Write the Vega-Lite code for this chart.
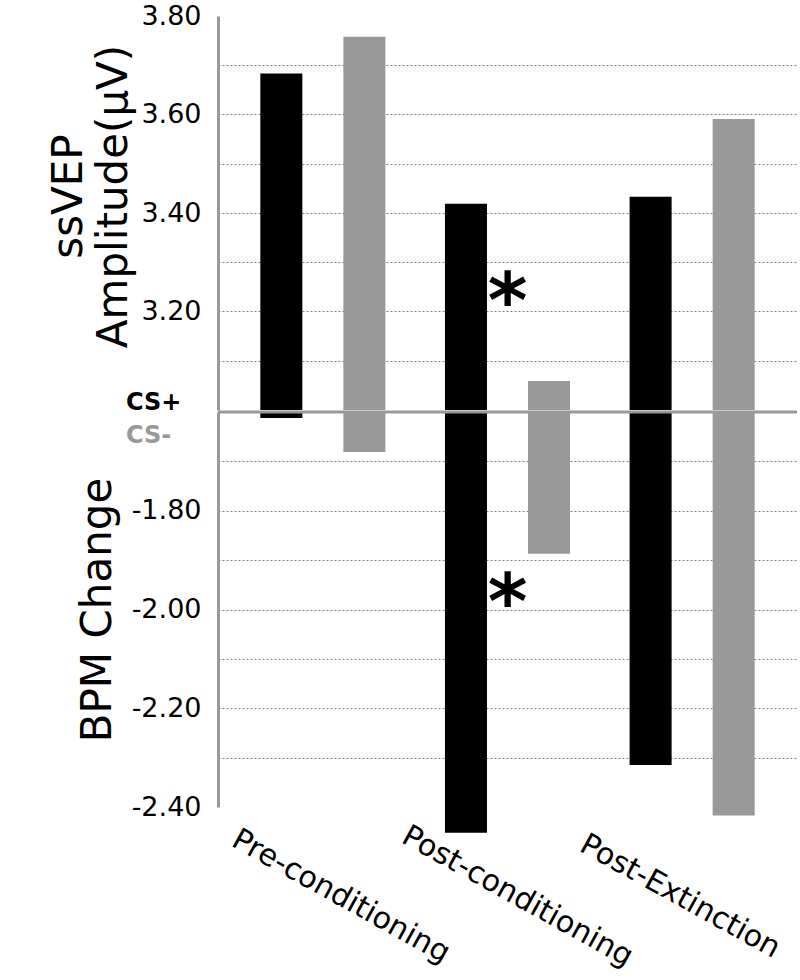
{
  "$schema": "https://vega.github.io/schema/vega-lite/v6.json",
  "background": "white",
  "padding": {"left": 47, "top": 2, "right": 3, "bottom": 5},
  "spacing": 0,
  "config": {
    "view": {"stroke": null},
    "font": "DejaVu Sans",
    "axis": {"labelFont": "DejaVu Sans", "titleFont": "DejaVu Sans"},
    "legend": {"labelFont": "DejaVu Sans"}
  },
  "datasets": {
    "bars": [
      {"phase": "Pre-conditioning", "cond": "CS+", "ssvep": 3.683, "bpm": -1.612},
      {"phase": "Pre-conditioning", "cond": "CS-", "ssvep": 3.758, "bpm": -1.681},
      {"phase": "Post-conditioning", "cond": "CS+", "ssvep": 3.419, "bpm": -2.452},
      {"phase": "Post-conditioning", "cond": "CS-", "ssvep": 3.059, "bpm": -1.887},
      {"phase": "Post-Extinction", "cond": "CS+", "ssvep": 3.433, "bpm": -2.315},
      {"phase": "Post-Extinction", "cond": "CS-", "ssvep": 3.591, "bpm": -2.417}
    ],
    "stars": [
      {"phase": "Post-conditioning", "mark": "*", "ssvep": 3.216, "bpm": -1.99}
    ]
  },
  "vconcat": [
    {
      "width": 579,
      "height": 394,
      "layer": [
        {
          "data": {"name": "bars"},
          "mark": {"type": "bar"},
          "encoding": {
            "x": {"field": "phase", "type": "nominal", "scale": {"domain": ["Pre-conditioning", "Post-conditioning", "Post-Extinction"], "paddingInner": 0, "paddingOuter": 0.068}, "axis": null},
            "xOffset": {"field": "cond", "type": "nominal", "scale": {"domain": ["CS+", "CS-"], "paddingInner": 0.494, "paddingOuter": 0.3585}},
            "y": {"field": "ssvep", "type": "quantitative", "scale": {"domain": [3.0, 3.8], "nice": false, "zero": false},
              "axis": {
                "values": [3.1, 3.2, 3.3, 3.4, 3.5, 3.6, 3.7, 3.8],
                "labelExpr": "round(datum.value*10)%2==0 ? format(datum.value,'.2f') : ''",
                "labelOverlap": false,
                "grid": true, "gridDash": [2, 2], "gridColor": "#808080", "gridWidth": 1,
                "gridOpacity": {"condition": {"test": "datum.value > 3.75", "value": 0}, "value": 1},
                "ticks": false, "domainColor": "#999999", "domainWidth": 3,
                "labelFontSize": 27, "labelColor": "black", "labelPadding": 17,
                "title": ["ssVEP", "Amplitude(μV)"], "titleFontSize": 42, "titleFontWeight": "normal", "titleColor": "black",
                "titlePadding": 5, "titleLineHeight": 45, "titleY": 180
              }},
            "y2": {"datum": 3.0},
            "color": {"field": "cond", "type": "nominal", "scale": {"domain": ["CS+", "CS-"], "range": ["#000000", "#999999"]},
              "legend": {"orient": "none", "legendX": -116, "legendY": 375, "title": null, "symbolOpacity": 0, "symbolSize": 0, "symbolStrokeWidth": 0, "symbolOffset": 0, "labelOffset": 0, "labelFontSize": 24, "labelFontWeight": "bold", "labelColor": {"expr": "datum.value == 'CS+' ? '#000000' : '#999999'"}, "rowPadding": 9}}
          }
        },
        {
          "data": {"name": "stars"},
          "mark": {"type": "text", "fontSize": 76, "fontWeight": "bold", "baseline": "middle", "align": "center", "color": "black"},
          "encoding": {
            "x": {"field": "phase", "type": "nominal"},
            "y": {"field": "ssvep", "type": "quantitative"},
            "text": {"field": "mark"}
          }
        }
      ]
    },
    {
      "width": 579,
      "height": 395,
      "layer": [
        {
          "data": {"name": "bars"},
          "mark": {"type": "bar"},
          "encoding": {
            "x": {"field": "phase", "type": "nominal", "scale": {"domain": ["Pre-conditioning", "Post-conditioning", "Post-Extinction"], "paddingInner": 0, "paddingOuter": 0.068},
              "axis": {"title": null, "labelAngle": 29, "labelAlign": "center", "labelBaseline": "middle", "labelPadding": 89, "labelFontSize": 30, "labelColor": "black", "ticks": false, "domain": false, "labelLimit": 0,
                "labelOffset": {"condition": [{"test": "datum.value == 'Post-Extinction'", "value": -12}, {"test": "datum.value == 'Pre-conditioning'", "value": 18}], "value": 10}, "grid": false}},
            "xOffset": {"field": "cond", "type": "nominal", "scale": {"domain": ["CS+", "CS-"], "paddingInner": 0.494, "paddingOuter": 0.3585}},
            "y": {"field": "bpm", "type": "quantitative", "scale": {"domain": [-2.4, -1.6], "nice": false, "zero": false},
              "axis": {
                "values": [-1.7, -1.8, -1.9, -2.0, -2.1, -2.2, -2.3, -2.4],
                "labelExpr": "round(datum.value*10)%2==0 ? '-' + format(abs(datum.value),'.2f') : ''",
                "labelOverlap": false,
                "grid": true, "gridDash": [2, 2], "gridColor": "#808080", "gridWidth": 1,
                "gridOpacity": {"condition": {"test": "datum.value < -2.35", "value": 0}, "value": 1},
                "ticks": false, "domainColor": "#999999", "domainWidth": 3,
                "labelFontSize": 27, "labelColor": "black", "labelPadding": 17,
                "title": "BPM Change", "titleFontSize": 42, "titleFontWeight": "normal", "titleColor": "black",
                "titlePadding": 12
              }},
            "y2": {"datum": -1.6},
            "color": {"field": "cond", "type": "nominal", "scale": {"domain": ["CS+", "CS-"], "range": ["#000000", "#999999"]},
              "legend": {"orient": "none", "legendX": -116, "legendY": 375, "title": null, "symbolOpacity": 0, "symbolSize": 0, "symbolStrokeWidth": 0, "symbolOffset": 0, "labelOffset": 0, "labelFontSize": 24, "labelFontWeight": "bold", "labelColor": {"expr": "datum.value == 'CS+' ? '#000000' : '#999999'"}, "rowPadding": 9}}
          }
        },
        {
          "data": {"values": [{}]},
          "mark": {"type": "rule", "color": "#999999", "strokeWidth": 3},
          "encoding": {"y": {"datum": -1.6}}
        },
        {
          "data": {"name": "stars"},
          "mark": {"type": "text", "fontSize": 76, "fontWeight": "bold", "baseline": "middle", "align": "center", "color": "black"},
          "encoding": {
            "x": {"field": "phase", "type": "nominal"},
            "y": {"field": "bpm", "type": "quantitative"},
            "text": {"field": "mark"}
          }
        }
      ]
    }
  ],
  "resolve": {"scale": {"y": "independent"}}
}
